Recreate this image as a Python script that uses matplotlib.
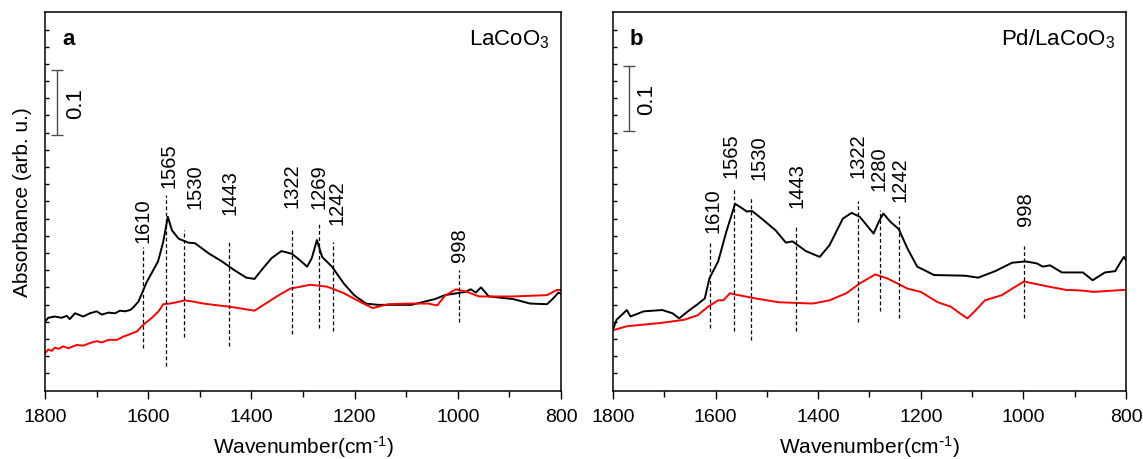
import matplotlib.pyplot as plt
import numpy as np

plt.rcParams['font.family'] = ['Liberation Sans', 'DejaVu Sans']
plt.rcParams['mathtext.default'] = 'regular'

# ---- panel a: LaCoO3 ----
a_black_w = [1800, 1794, 1781, 1768, 1758, 1752, 1742, 1726, 1713, 1700, 1690, 1677, 1664, 1655,
             1645, 1635, 1629, 1619, 1610, 1603, 1581, 1571, 1562, 1554, 1541, 1522, 1509, 1482,
             1457, 1434, 1410, 1394, 1378, 1361, 1342, 1322, 1306, 1292, 1283, 1273, 1263, 1244,
             1221, 1201, 1178, 1155, 1090, 1044, 1025, 985, 975, 965, 955, 940, 893, 860, 827,
             815, 805, 800]
a_black_v = [0.107, 0.113, 0.115, 0.113, 0.116, 0.111, 0.120, 0.115, 0.120, 0.123, 0.118, 0.121,
             0.120, 0.124, 0.123, 0.125, 0.129, 0.138, 0.155, 0.168, 0.200, 0.230, 0.269, 0.248,
             0.235, 0.229, 0.228, 0.212, 0.200, 0.187, 0.175, 0.173, 0.189, 0.205, 0.216, 0.212,
             0.202, 0.192, 0.205, 0.233, 0.207, 0.192, 0.166, 0.148, 0.135, 0.133, 0.133, 0.142,
             0.148, 0.153, 0.157, 0.152, 0.160, 0.146, 0.142, 0.135, 0.134, 0.143, 0.152, 0.150]

a_red_w = [1800, 1794, 1787, 1781, 1774, 1765, 1755, 1739, 1726, 1713, 1700, 1690, 1677, 1661,
           1648, 1635, 1622, 1610, 1593, 1580, 1571, 1558, 1545, 1529, 1513, 1493, 1474, 1441,
           1394, 1351, 1325, 1286, 1253, 1221, 1188, 1165, 1135, 1090, 1057, 1040, 1025, 1004,
           982, 959, 893, 827, 808, 800]
a_red_v = [0.058, 0.064, 0.062, 0.067, 0.065, 0.069, 0.066, 0.071, 0.070, 0.074, 0.077, 0.075,
           0.079, 0.079, 0.084, 0.088, 0.092, 0.102, 0.113, 0.123, 0.134, 0.135, 0.137, 0.140,
           0.138, 0.135, 0.133, 0.130, 0.124, 0.146, 0.158, 0.164, 0.161, 0.151, 0.137, 0.128,
           0.134, 0.135, 0.135, 0.132, 0.147, 0.157, 0.153, 0.146, 0.146, 0.148, 0.156, 0.156]

a_peaks = [1610, 1565, 1530, 1443, 1322, 1269, 1242, 998]
a_peak_labels = ['1610', '1565', '1530', '1443', '1322', '1269', '1242', '998']
a_line_top = [0.222, 0.302, 0.248, 0.231, 0.252, 0.261, 0.230, 0.187]
a_line_bot = [0.066, 0.038, 0.084, 0.069, 0.088, 0.098, 0.093, 0.107]
a_label_x = [1610, 1560, 1510, 1441, 1322, 1269, 1234, 996]
a_label_y = [0.230, 0.315, 0.282, 0.274, 0.284, 0.282, 0.258, 0.200]

# ---- panel b: Pd/LaCoO3 ----
b_black_w = [1799, 1793, 1773, 1766, 1740, 1704, 1684, 1671, 1654, 1635, 1621, 1612, 1595, 1579,
             1562, 1552, 1539, 1529, 1510, 1483, 1463, 1450, 1424, 1397, 1378, 1352, 1335, 1319,
             1292, 1282, 1273, 1259, 1243, 1226, 1207, 1174, 1114, 1088, 1055, 1022, 996, 974,
             962, 948, 925, 884, 865, 841, 821, 812, 804, 800]
b_black_v = [0.097, 0.110, 0.125, 0.115, 0.123, 0.125, 0.120, 0.112, 0.123, 0.134, 0.143, 0.174,
             0.200, 0.246, 0.289, 0.284, 0.277, 0.278, 0.266, 0.248, 0.229, 0.231, 0.216, 0.207,
             0.225, 0.266, 0.275, 0.269, 0.243, 0.261, 0.274, 0.261, 0.250, 0.220, 0.192, 0.179,
             0.178, 0.175, 0.185, 0.198, 0.200, 0.197, 0.192, 0.194, 0.183, 0.183, 0.171, 0.183,
             0.185, 0.197, 0.207, 0.202]

b_red_w = [1799, 1773, 1707, 1661, 1635, 1615, 1595, 1585, 1572, 1562, 1523, 1477, 1411, 1378,
           1345, 1319, 1289, 1266, 1243, 1226, 1200, 1167, 1141, 1124, 1109, 1095, 1075, 1042,
           1022, 999, 950, 916, 884, 864, 805, 800]
b_red_v = [0.094, 0.100, 0.105, 0.110, 0.117, 0.130, 0.140, 0.140, 0.151, 0.149, 0.143, 0.137,
           0.135, 0.140, 0.151, 0.166, 0.180, 0.174, 0.165, 0.158, 0.153, 0.137, 0.130, 0.120,
           0.112, 0.123, 0.140, 0.148, 0.158, 0.169, 0.161, 0.156, 0.155, 0.153, 0.156, 0.156]

b_peaks = [1610, 1565, 1530, 1443, 1322, 1280, 1242, 998]
b_peak_labels = ['1610', '1565', '1530', '1443', '1322', '1280', '1242', '998']
b_line_top = [0.231, 0.313, 0.300, 0.253, 0.294, 0.279, 0.270, 0.224]
b_line_bot = [0.097, 0.093, 0.079, 0.093, 0.107, 0.123, 0.112, 0.112]
b_label_x = [1606, 1570, 1516, 1442, 1322, 1282, 1240, 996]
b_label_y = [0.246, 0.330, 0.328, 0.284, 0.330, 0.310, 0.294, 0.256]

ytick_pos = 0.558 - 0.02654 * np.arange(21)

fig = plt.figure(figsize=(11.43, 4.60), dpi=100)
ax_a = fig.add_axes([0.0394, 0.1478, 0.4514, 0.8239])
ax_b = fig.add_axes([0.5363, 0.1478, 0.4488, 0.8239])


def draw_panel(ax, bw, bv, rw, rv, peaks, labels, tops, bots, lx, ly, letter, title, bar_x, bar_y):
    ax.plot(bw, bv, color='black', lw=1.4)
    ax.plot(rw, rv, color='red', lw=1.4)
    for p, lab, t, b, x, y in zip(peaks, labels, tops, bots, lx, ly):
        ax.plot([p, p], [b, t], color='black', lw=0.9, dashes=(3, 2))
        ax.text(x, y, lab, rotation=90, ha='center', va='bottom', fontsize=14.5)
    ax.errorbar([bar_x], [bar_y], yerr=0.05, color='0.3', lw=1, capsize=4, capthick=1)
    ax.text(bar_x - 15, bar_y, '0.1', rotation=90, ha='left', va='center', fontsize=16)
    ax.text(0.033, 0.93, letter, transform=ax.transAxes, fontsize=16, fontweight='bold',
            ha='left', va='center')
    ax.text(0.978, 0.93, title, transform=ax.transAxes, fontsize=16, ha='right', va='center')
    ax.set_xlim(1800, 800)
    ax.set_ylim(0.0, 0.585)
    ax.set_xticks([1800, 1600, 1400, 1200, 1000, 800])
    ax.set_xticks([1700, 1500, 1300, 1100, 900], minor=True)
    ax.set_yticks(ytick_pos)
    ax.set_yticklabels([])
    ax.tick_params(axis='x', which='major', direction='out', length=6, width=1, labelsize=14, pad=6)
    ax.tick_params(axis='x', which='minor', direction='out', length=4, width=1)
    ax.tick_params(axis='y', which='major', direction='in', length=3, width=1)
    ax.set_xlabel(r'Wavenumber(cm$^{\text{-}1}$)', fontsize=15, labelpad=6)
    for s in ax.spines.values():
        s.set_linewidth(1.1)


draw_panel(ax_a, a_black_w, a_black_v, a_red_w, a_red_v, a_peaks, a_peak_labels,
           a_line_top, a_line_bot, a_label_x, a_label_y, 'a', 'LaCoO$_3$', 1777, 0.445)
draw_panel(ax_b, b_black_w, b_black_v, b_red_w, b_red_v, b_peaks, b_peak_labels,
           b_line_top, b_line_bot, b_label_x, b_label_y, 'b', 'Pd/LaCoO$_3$', 1769, 0.452)
ax_a.set_ylabel('Absorbance (arb. u.)', fontsize=15, labelpad=6)

fig.savefig('out.png', dpi=100)
